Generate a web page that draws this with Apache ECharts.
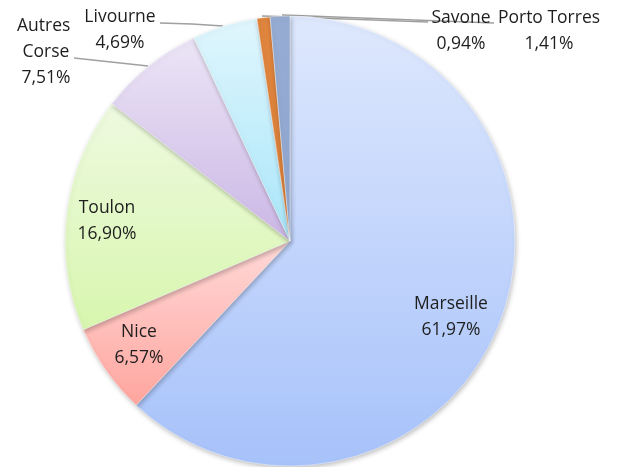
<!DOCTYPE html>
<html>
<head>
<meta charset="utf-8">
<script src="https://cdn.jsdelivr.net/npm/echarts@6/dist/echarts.min.js"></script>
<style>
  html, body { margin: 0; padding: 0; background: #fff; }
  #chart { width: 620px; height: 467px; }
</style>
</head>
<body>
<div id="chart"></div>
<script>
// ports (clockwise from the top) and their share in %
const ports = ['Marseille', 'Nice', 'Toulon', 'Autres Corse', 'Livourne', 'Savone', 'Porto Torres'];
const shares = [61.97, 6.57, 16.90, 7.51, 4.69, 0.94, 1.41];

// slice colours: [top, bottom] of the gradient
const sliceColors = [
  ['#dee8fd', '#a7c2fa'],
  ['#ffd9d8', '#ffa59e'],
  ['#eefae0', '#d8f6ae'],
  ['#ece5f6', '#cbb7e5'],
  ['#e0f6fd', '#a9e6fa'],
  ['#df853e', '#dd823a'],
  ['#96acd3', '#90a6cf']
];

// label placement (centre of text block) and leader lines
const labelPos = [
  [451, 317], [139, 345], [107, 221], [46, 52], [120, 30], [461, 31], [549, 31]
];
const leaderLines = [
  null, null, null,
  [[148, 66], [111, 62], [74, 58]],
  [[223, 26], [192, 24], [160, 23]],
  [[262, 16], [345, 19], [428, 22]],
  [[282, 15], [388, 19], [494, 23]]
];

const chart = echarts.init(document.getElementById('chart'));

const data = ports.map((name, i) => ({
  name: name,
  value: shares[i],
  itemStyle: {
    color: new echarts.graphic.LinearGradient(0, 0, 0, 1, [
      {offset: 0, color: sliceColors[i][0]},
      {offset: 1, color: sliceColors[i][1]}
    ])
  },
  label: name === 'Autres Corse' ? {width: 60, overflow: 'break'} : {},
  labelLine: {show: leaderLines[i] !== null}
}));

const option = {
  animation: false,
  series: [{
    type: 'pie',
    center: [290, 241],
    radius: 225,
    startAngle: 90,
    clockwise: true,
    data: data,
    itemStyle: {
      borderColor: 'rgba(255,255,255,0.7)',
      borderWidth: 0.6,
      shadowBlur: 5,
      shadowOffsetX: 1,
      shadowOffsetY: 2,
      shadowColor: 'rgba(0,0,0,0.25)'
    },
    label: {
      show: true,
      position: 'outside',
      overflow: 'none',
      color: '#1e1e1e',
      fontFamily: '"Open Sans", Lato, sans-serif',
      fontSize: 17.5,
      lineHeight: 26,
      align: 'center',
      formatter: function (p) {
        return p.name + '\n' + p.value.toFixed(2).replace('.', ',') + '%';
      }
    },
    labelLine: {
      show: true,
      lineStyle: {color: '#a0a0a0', width: 1.5}
    },
    labelLayout: function (params) {
      const i = params.dataIndex;
      const res = {
        x: labelPos[i][0],
        y: labelPos[i][1],
        align: 'center',
        verticalAlign: 'middle'
      };
      if (leaderLines[i]) {
        res.labelLinePoints = leaderLines[i];
      }
      return res;
    }
  }]
};

chart.setOption(option);
</script>
</body>
</html>
